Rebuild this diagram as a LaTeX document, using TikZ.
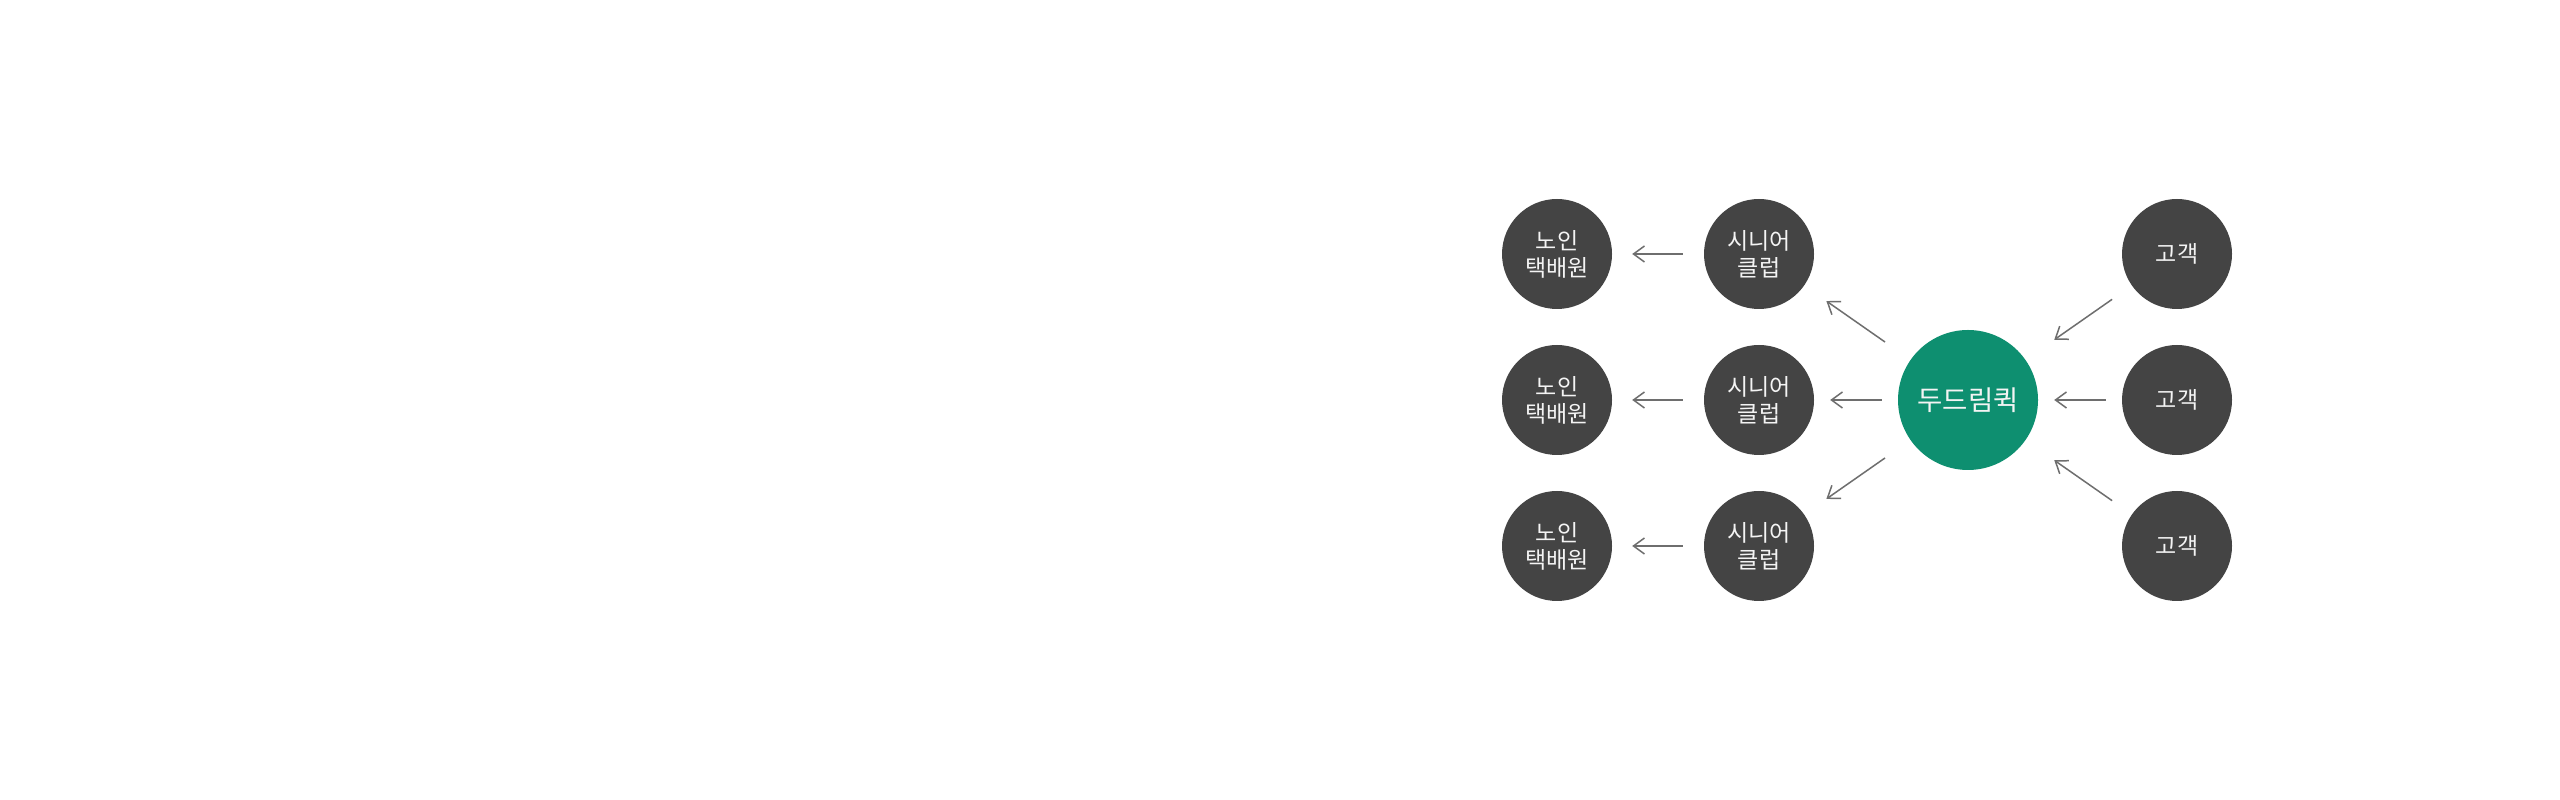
\documentclass[tikz,border=0pt]{standalone}
\usepackage{fontspec}
\newfontfamily\cjk{Noto Sans CJK KR}
\usetikzlibrary{arrows.meta}
\definecolor{darkc}{HTML}{444444}
\definecolor{greenc}{HTML}{0E8F70}
\definecolor{arrowc}{HTML}{6E6E6E}
\definecolor{txtc}{HTML}{F4F4F4}
\tikzset{
  x=1pt, y=1pt,
  dot/.style={circle, fill=darkc, draw=none, minimum size=110pt, inner sep=0pt,
    text=txtc, align=center, font=\cjk\fontsize{23}{27}\selectfont},
  hub/.style={circle, fill=greenc, draw=none, minimum size=140pt, inner sep=0pt,
    text=txtc, font=\cjk\fontsize{27.5}{32}\selectfont},
  link/.style={draw=arrowc, line width=1.5pt,
    -{Straight Barb[length=11pt, width=16pt, line width=1.5pt]}},
}
\begin{document}
\begin{tikzpicture}
\useasboundingbox[fill=white] (0,0) rectangle (2560,800);
% hub
\node[hub] (hub) at (1968,400) {두드림퀵};
% clubs
\node[dot] (c1) at (1759,546) {시니어\\클럽};
\node[dot] (c2) at (1759,400) {시니어\\클럽};
\node[dot] (c3) at (1759,254) {시니어\\클럽};
% couriers
\node[dot] (r1) at (1557,546) {노인\\택배원};
\node[dot] (r2) at (1557,400) {노인\\택배원};
\node[dot] (r3) at (1557,254) {노인\\택배원};
% customers
\node[dot] (k1) at (2177,546) {고객};
\node[dot] (k2) at (2177,400) {고객};
\node[dot] (k3) at (2177,254) {고객};
% connectors
\draw[link, shorten <=21pt, shorten >=20pt] (c1) -- (r1);
\draw[link, shorten <=21pt, shorten >=20pt] (c2) -- (r2);
\draw[link, shorten <=21pt, shorten >=20pt] (c3) -- (r3);
\draw[link, shorten <=16pt, shorten >=16pt] (hub) -- (c2);
\draw[link, shorten <=31pt, shorten >=27pt] (hub) -- (c1);
\draw[link, shorten <=31pt, shorten >=27pt] (hub) -- (c3);
\draw[link, shorten <=16pt, shorten >=16pt] (k2) -- (hub);
\draw[link, shorten <=24pt, shorten >=35pt] (k1) -- (hub);
\draw[link, shorten <=24pt, shorten >=35pt] (k3) -- (hub);
\end{tikzpicture}
\end{document}
